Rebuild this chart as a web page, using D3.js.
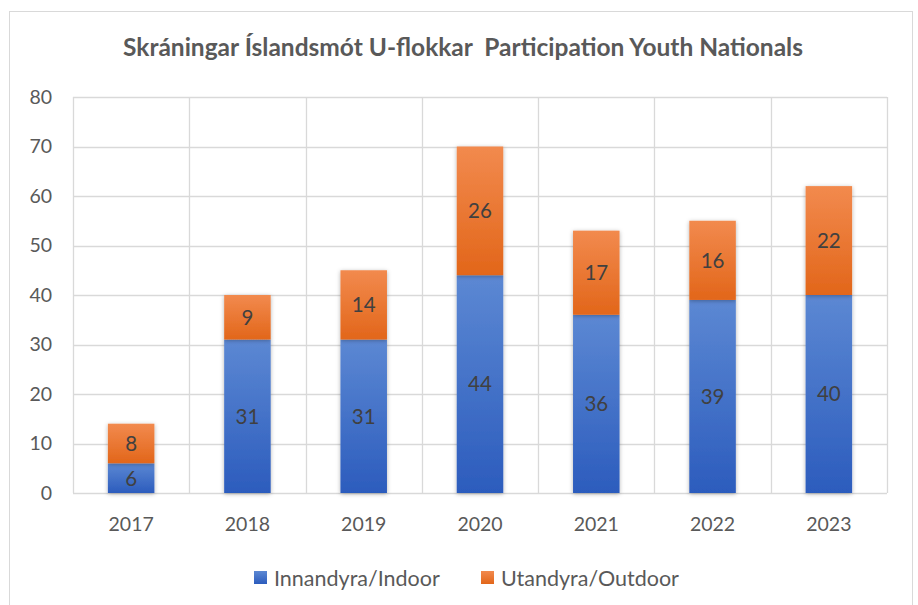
<!DOCTYPE html>
<html>
<head>
<meta charset="utf-8">
<script src="https://cdn.jsdelivr.net/npm/d3@7"></script>
<style>
  body { margin: 0; background: #fff; }
  text { font-family: Lato, "Open Sans", sans-serif; white-space: pre; }
</style>
</head>
<body>
<svg id="chart" width="918" height="605"></svg>
<script>
var years = ["2017", "2018", "2019", "2020", "2021", "2022", "2023"];
var indoor = [6, 31, 31, 44, 36, 39, 40];
var outdoor = [8, 9, 14, 26, 17, 16, 22];
var seriesNames = ["Innandyra/Indoor", "Utandyra/Outdoor"];
var yTicks = [0, 10, 20, 30, 40, 50, 60, 70, 80];

var svg = d3.select("#chart"),
    width = +svg.attr("width"),
    height = +svg.attr("height");

var margin = {left: 73, right: 31, top: 97, bottom: 112};

// chart border
svg.append("rect")
  .attr("x", 9.5).attr("y", 11.5)
  .attr("width", 903).attr("height", 600)
  .attr("fill", "#fff")
  .attr("stroke", "#d9d9d9");

var defs = svg.append("defs");
function grad(id, top, bottom) {
  var g = defs.append("linearGradient").attr("id", id)
    .attr("x1", 0).attr("y1", 0).attr("x2", 0).attr("y2", 1);
  g.append("stop").attr("offset", "0%").attr("stop-color", top);
  g.append("stop").attr("offset", "100%").attr("stop-color", bottom);
}
grad("gBlue", "#5c88d3", "#2c5cbd");
grad("gOrange", "#f28a4e", "#e2661a");
var f = defs.append("filter").attr("id", "shadow")
  .attr("x", "-20%").attr("y", "-10%").attr("width", "140%").attr("height", "130%");
f.append("feDropShadow").attr("dx", 0).attr("dy", 1).attr("stdDeviation", 2)
  .attr("flood-color", "#000").attr("flood-opacity", 0.3);

var x = d3.scaleBand()
  .domain(years)
  .range([margin.left, width - margin.right])
  .paddingInner(0.6).paddingOuter(0.3);

var y = d3.scaleLinear()
  .domain([0, 80])
  .range([height - margin.bottom, margin.top]);

var x0 = margin.left, x1 = width - margin.right;

// grid
var grid = svg.append("g").attr("stroke", "#d9d9d9").attr("stroke-width", 1.3);
grid.selectAll("line.h").data(yTicks).enter().append("line")
  .attr("x1", x0).attr("x2", x1)
  .attr("y1", d => Math.round(y(d)) + 0.5).attr("y2", d => Math.round(y(d)) + 0.5);
grid.selectAll("line.v").data(d3.range(years.length + 1)).enter().append("line")
  .attr("x1", i => Math.round(x0 + i * (x1 - x0) / years.length) + 0.5)
  .attr("x2", i => Math.round(x0 + i * (x1 - x0) / years.length) + 0.5)
  .attr("y1", y(80)).attr("y2", y(0));

// y axis labels
svg.append("g").selectAll("text").data(yTicks).enter().append("text")
  .attr("x", 52).attr("y", d => y(d))
  .attr("dy", "0.35em")
  .attr("text-anchor", "end")
  .attr("font-size", 19.5).attr("fill", "#595959")
  .text(d => d);

// x axis labels
svg.append("g").selectAll("text").data(years).enter().append("text")
  .attr("x", d => x(d) + x.bandwidth() / 2)
  .attr("y", y(0) + 38)
  .attr("text-anchor", "middle")
  .attr("font-size", 19.5).attr("fill", "#595959")
  .text(d => d);

// bars
var rows = years.map((yr, i) => ({year: yr, indoor: indoor[i], outdoor: outdoor[i]}));
var stack = d3.stack().keys(["indoor", "outdoor"])(rows);
var fills = ["url(#gBlue)", "url(#gOrange)"];

var layers = svg.append("g").selectAll("g.layer")
  .data(stack).enter().append("g")
  .attr("class", "layer")
  .attr("fill", (d, i) => fills[i]);

layers.selectAll("rect").data(d => d).enter().append("rect")
  .attr("x", d => x(d.data.year))
  .attr("width", x.bandwidth())
  .attr("y", d => y(d[1]))
  .attr("height", d => y(d[0]) - y(d[1]))
  .attr("filter", "url(#shadow)");

// data labels
layers.selectAll("text").data(d => d).enter().append("text")
  .attr("x", d => x(d.data.year) + x.bandwidth() / 2)
  .attr("y", d => (y(d[0]) + y(d[1])) / 2)
  .attr("dy", "0.36em")
  .attr("text-anchor", "middle")
  .attr("font-size", 20.5).attr("fill", "#404040")
  .text(d => d[1] - d[0]);

// title
svg.append("text")
  .attr("x", 463).attr("y", 56)
  .attr("text-anchor", "middle")
  .attr("font-size", 24.5).attr("font-weight", "bold")
  .attr("fill", "#595959")
  .text("Skráningar Íslandsmót U-flokkar  Participation Youth Nationals");

// legend
var legendX = [254, 481];
var lg = svg.append("g").selectAll("g").data(seriesNames).enter().append("g")
  .attr("transform", (d, i) => "translate(" + legendX[i] + ",578)");
lg.append("rect")
  .attr("x", 0).attr("y", -7).attr("width", 13).attr("height", 13)
  .attr("fill", (d, i) => fills[i]);
lg.append("text")
  .attr("x", 20).attr("y", 0).attr("dy", "0.35em")
  .attr("font-size", 21.5).attr("fill", "#595959")
  .text(d => d);
</script>
</body>
</html>
